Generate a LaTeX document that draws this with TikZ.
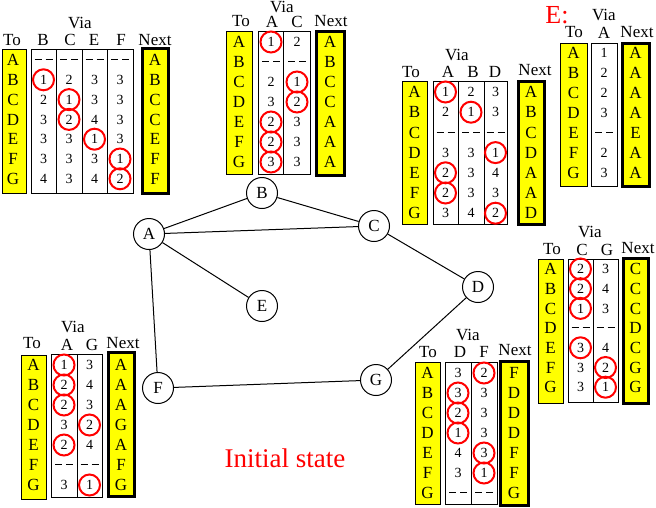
\documentclass[tikz,border=0pt]{standalone}
\usepackage{fontspec}
\setmainfont{Liberation Serif}
\definecolor{yel}{RGB}{255,255,0}
\definecolor{rd}{RGB}{255,0,0}
\newcommand\dd{\rule[4.5pt]{7pt}{1pt}\hspace{4pt}\rule[4.5pt]{7pt}{1pt}}
\newcommand\lcol[5]{\foreach \lt [count=\i from 0] in {#5} \node[let] (#1\i) at (#2,#3+#4*\i) {\lt};}
\newcommand\vcol[5]{\foreach \vx/\cx [count=\i from 0] in {#5} \node[dig,draw=\cx] (#1\i) at (#2,#3+#4*\i) {\vx};}
\tikzset{
  let/.style={font=\fontsize{17}{17}\selectfont, text height=11.5pt, text depth=0pt, inner sep=0pt},
  dig/.style={circle, font=\fontsize{14}{14}\selectfont, text height=9.5pt, text depth=0pt, inner sep=0pt, minimum size=21pt, line width=2pt},
  tobox/.style={fill=yel, draw=black, line width=1pt},
  nextbox/.style={fill=yel, draw=black, line width=3pt},
  viabox/.style={draw=black, line width=1pt},
  rt/.style={circle, draw=black, fill=white, line width=1pt, minimum size=31pt, inner sep=0pt, font=\fontsize{17}{17}\selectfont},
  edge/.style={draw=black, line width=1pt},
  redtxt/.style={text=rd, inner sep=0pt}
}
\begin{document}
\begin{tikzpicture}[x=1pt,y=-1pt]
\useasboundingbox (0,0) rectangle (656,507);
% ---------- graph ----------
\node[rt] (A) at (149,234) {A};
\node[rt] (B) at (262,193) {B};
\node[rt] (C) at (374,226) {C};
\node[rt] (D) at (478,287) {D};
\node[rt] (E) at (262,306) {E};
\node[rt] (F) at (158,388) {F};
\node[rt] (G) at (376,380) {G};
\draw[edge] (A) -- (B);
\draw[edge] (A) -- (C);
\draw[edge] (B) -- (C);
\draw[edge] (A) -- (E);
\draw[edge] (A) -- (F);
\draw[edge] (C) -- (D);
\draw[edge] (D) -- (G);
\draw[edge] (F) -- (G);
\node[redtxt, font=\fontsize{27}{27}\selectfont] (init) at (285,458) {Initial state};
% ---------- table A ----------
\draw[tobox] (2,49) rectangle (26,193);
\draw[nextbox] (142,48) rectangle (168,193);
\draw[viabox] (31,49) rectangle (133,193) (56,49)--(56,193) (82,49)--(82,193) (107,49)--(107,193);
\node[let] (aVia) at (80,23) {Via};
\node[let] (aTo) at (12,40) {To};
\node[let] (aHB) at (43,40) {B};
\node[let] (aHC) at (70,40) {C};
\node[let] (aHE) at (94,40) {E};
\node[let] (aHF) at (121,40) {F};
\node[let] (aNext) at (155,40) {Next};
\lcol{aT}{13}{60}{19.8}{A,B,C,D,E,F,G}
\vcol{aB}{43.5}{60}{19.8}{\dd/none,1/rd,2/none,3/none,3/none,3/none,4/none}
\vcol{aC}{69}{60}{19.8}{\dd/none,2/none,1/rd,2/rd,3/none,3/none,3/none}
\vcol{aE}{94.5}{60}{19.8}{\dd/none,3/none,3/none,4/none,1/rd,3/none,4/none}
\vcol{aF}{120}{60}{19.8}{\dd/none,3/none,3/none,3/none,3/none,1/rd,2/rd}
\lcol{aN}{155}{60}{19.8}{A,B,C,C,E,F,F}
% ---------- table B ----------
\draw[tobox] (226,31) rectangle (252,174);
\draw[nextbox] (316,31) rectangle (344,175);
\draw[viabox] (258,31) rectangle (310,174) (283,31)--(283,174);
\node[let] (bVia) at (282,6.5) {Via};
\node[let] (bTo) at (241,21) {To};
\node[let] (bHA) at (272,21.5) {A};
\node[let] (bHC) at (297,21.5) {C};
\node[let] (bNext) at (331,21) {Next};
\lcol{bT}{239}{42}{20}{A,B,C,D,E,F,G}
\vcol{bA}{271}{42}{20}{1/rd,\dd/none,2/none,3/none,2/rd,2/rd,3/rd}
\vcol{bC}{297}{42}{20}{2/none,\dd/none,1/rd,2/rd,3/none,3/none,3/none}
\lcol{bN}{330}{42}{20}{A,B,C,C,A,A,A}
% ---------- table C ----------
\draw[tobox] (402,81) rectangle (427,224);
\draw[nextbox] (518,81) rectangle (544,224);
\draw[viabox] (433,81) rectangle (507,224) (458,81)--(458,224) (484,81)--(484,224);
\node[let] (cVia) at (457,55) {Via};
\node[let] (cTo) at (411,72) {To};
\node[let] (cHA) at (448,72) {A};
\node[let] (cHB) at (473,72) {B};
\node[let] (cHD) at (495,72) {D};
\node[let] (cNext) at (535,70) {Next};
\lcol{cT}{414.5}{92}{20.2}{A,B,C,D,E,F,G}
\vcol{cA}{445.5}{92}{20.2}{1/rd,2/none,\dd/none,3/none,2/rd,2/rd,3/none}
\vcol{cB}{471}{92}{20.2}{2/none,1/rd,\dd/none,3/none,3/none,3/none,4/none}
\vcol{cD}{495.5}{92}{20.2}{3/none,3/none,\dd/none,1/rd,4/none,3/none,2/rd}
\lcol{cN}{531}{92}{20.2}{A,B,C,D,A,A,D}
% ---------- table E ----------
\node[redtxt, font=\fontsize{26}{26}\selectfont] (eLbl) at (557,15) {E:};
\draw[tobox] (560,43) rectangle (587,186);
\draw[nextbox] (622,43) rectangle (649,186);
\draw[viabox] (591,43) rectangle (617,186);
\node[let] (eVia) at (604,15) {Via};
\node[let] (eTo) at (574,32) {To};
\node[let] (eHA) at (604,33) {A};
\node[let] (eNext) at (637,32) {Next};
\lcol{eT}{573.5}{53}{20}{A,B,C,D,E,F,G}
\vcol{eA}{604}{53}{20}{1/none,2/none,2/none,3/none,\dd/none,2/none,3/none}
\lcol{eN}{635.5}{53}{20}{A,A,A,A,E,A,A}
% ---------- table D ----------
\draw[tobox] (538,259) rectangle (563,403);
\draw[nextbox] (623,258) rectangle (648,403);
\draw[viabox] (568,259) rectangle (618,402) (593,259)--(593,402);
\node[let] (dVia) at (590,232) {Via};
\node[let] (dTo) at (552,249) {To};
\node[let] (dHC) at (582,250) {C};
\node[let] (dHG) at (607,250) {G};
\node[let] (dNext) at (638,248) {Next};
\lcol{dT}{550.5}{269}{19.7}{A,B,C,D,E,F,G}
\vcol{dC}{580.5}{269}{19.7}{2/rd,2/rd,1/rd,\dd/none,3/rd,3/none,3/none}
\vcol{dG}{605.5}{269}{19.7}{3/none,4/none,3/none,\dd/none,4/none,2/rd,1/rd}
\lcol{dN}{635.5}{269}{19.7}{C,C,C,D,C,G,G}
% ---------- table G ----------
\draw[tobox] (415,362) rectangle (440,504);
\draw[nextbox] (500,361) rectangle (528,505);
\draw[viabox] (445,362) rectangle (497,504) (471,362)--(471,504);
\node[let] (gVia) at (468,335) {Via};
\node[let] (gTo) at (428,352) {To};
\node[let] (gHD) at (460,352) {D};
\node[let] (gHF) at (484,352) {F};
\node[let] (gNext) at (515,350) {Next};
\lcol{gT}{427.5}{373}{20}{A,B,C,D,E,F,G}
\vcol{gD}{458}{373}{20}{3/none,3/rd,2/rd,1/rd,4/none,3/none,\dd/none}
\vcol{gF}{484}{373}{20}{2/rd,3/none,3/none,3/none,3/rd,1/rd,\dd/none}
\lcol{gN}{514}{373}{20}{F,D,D,D,F,F,G}
% ---------- table F ----------
\draw[tobox] (21,355) rectangle (46,499);
\draw[nextbox] (108,352) rectangle (134,496);
\draw[viabox] (51,354) rectangle (102,497) (77,354)--(77,497);
\node[let] (fVia) at (73,327) {Via};
\node[let] (fTo) at (32,343) {To};
\node[let] (fHA) at (67,345) {A};
\node[let] (fHG) at (92,345) {G};
\node[let] (fNext) at (123,343) {Next};
\lcol{fT}{33.5}{365}{20}{A,B,C,D,E,F,G}
\vcol{fA}{64}{365}{20}{1/rd,2/rd,2/rd,3/none,2/rd,\dd/none,3/none}
\vcol{fG}{89.5}{365}{20}{3/none,4/none,3/none,2/rd,4/none,\dd/none,1/rd}
\lcol{fN}{121}{365}{20}{A,A,A,G,A,F,G}
\end{tikzpicture}
\end{document}
